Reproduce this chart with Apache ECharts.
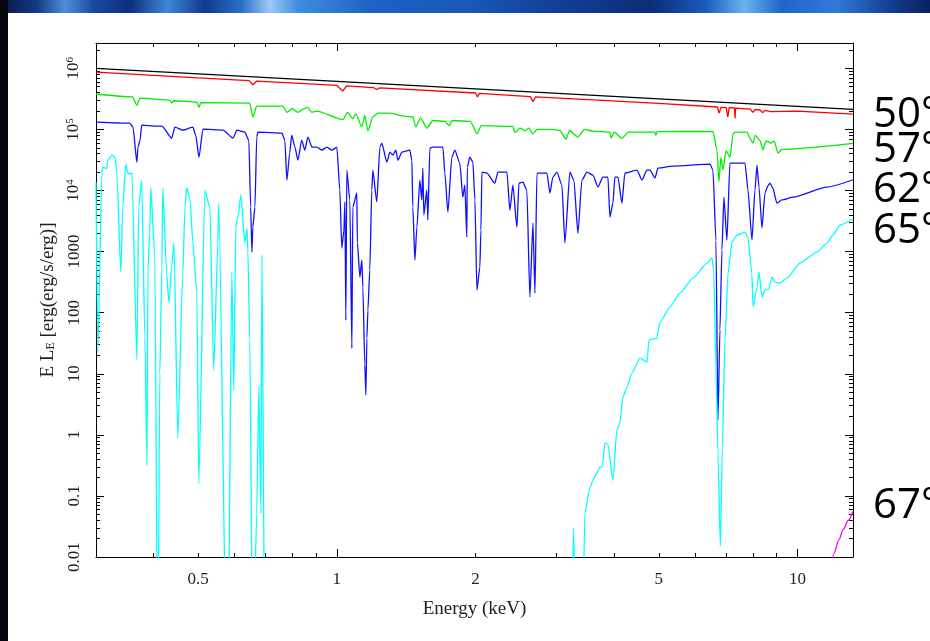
<!DOCTYPE html>
<html>
<head>
<meta charset="utf-8">
<script src="https://cdn.jsdelivr.net/npm/echarts@6/dist/echarts.min.js"></script>
<style>
  html, body { margin: 0; padding: 0; background: #fff; }
  #wrap { position: relative; width: 930px; height: 641px; overflow: hidden; background: #fff; }
  #main { position: absolute; left: 0; top: 0; width: 930px; height: 641px; }
  #topband {
    position: absolute; left: 0; top: 0; width: 930px; height: 13px; z-index: 2;
    background: linear-gradient(90deg, #081845 0%, #143a86 4%, #4f8fd8 7%, #1a4aa0 10%, #0e2f7c 14%,
      #3f86d8 18%, #0f3a8c 22%, #2a6fc8 26%, #9ccaf2 29%, #3f8ee0 32%, #1d62c4 40%, #1a58b8 50%,
      #123f96 60%, #0c2c78 70%, #1c5cbc 76%, #6ab4f0 80%, #1f66c8 84%, #2f7ad8 90%, #123c8e 96%, #0a2060 100%);
  }
  #leftband { position: absolute; left: 0; top: 0; width: 8px; height: 641px; z-index: 2; background: #04060d; }
</style>
</head>
<body>
<div id="wrap">
  <div id="main"></div>
  <div id="topband"></div>
  <div id="leftband"></div>
</div>
<script>
// energy (keV) vs E L_E
const black = [[0.3, 1.0e6], [0.5, 8.1e5], [1, 6.1e5], [2, 4.6e5], [5, 3.17e5], [10, 2.39e5], [13.2, 2.13e5]];

const red = [[0.3, 8.7e5], [0.5, 7.0e5], [0.645, 6.3e5], [0.657, 5.4e5], [0.67, 6.2e5], [1.0, 5.25e5],
  [1.03, 4.25e5], [1.05, 5.15e5], [1.2, 4.85e5], [1.22, 4.5e5], [1.24, 4.8e5], [2.0, 3.95e5], [2.02, 3.4e5],
  [2.04, 3.9e5], [2.63, 3.45e5], [2.665, 2.85e5], [2.7, 3.4e5], [5.0, 2.68e5], [6.7, 2.33e5], [6.76, 1.85e5],
  [6.82, 2.3e5], [7.0, 2.28e5], [7.06, 1.6e5], [7.11, 2.27e5], [7.3, 2.25e5], [7.32, 1.52e5], [7.34, 2.24e5],
  [7.9, 2.15e5], [8.0, 1.9e5], [8.1, 2.12e5], [8.3, 2.08e5], [8.4, 1.88e5], [8.5, 2.05e5], [8.75, 1.95e5],
  [8.8, 2.03e5], [10, 2.0e5], [13.2, 1.78e5]];

const green = [[0.3, 3.8e5], [0.36, 3.4e5], [0.368, 2.5e5], [0.374, 3.25e5], [0.434, 3.0e5], [0.438, 2.7e5],
  [0.442, 2.95e5], [0.497, 2.8e5], [0.502, 2.3e5], [0.507, 2.75e5], [0.647, 2.7e5], [0.657, 1.6e5], [0.67, 2.4e5],
  [0.763, 2.4e5], [0.779, 1.9e5], [0.80, 2.2e5], [0.823, 1.9e5], [0.845, 2.15e5], [0.865, 2.3e5], [0.882, 1.9e5],
  [0.905, 2.0e5], [1.03, 1.45e5], [1.055, 1.9e5], [1.083, 1.5e5], [1.10, 1.8e5], [1.133, 1.1e5], [1.15, 1.7e5],
  [1.168, 9.5e4], [1.197, 1.6e5], [1.228, 1.85e5], [1.304, 1.85e5], [1.40, 1.65e5], [1.462, 1.6e5], [1.484, 1.1e5],
  [1.52, 1.55e5], [1.568, 1.05e5], [1.616, 1.4e5], [1.72, 1.35e5], [1.751, 1.15e5], [1.78, 1.4e5], [1.95, 1.35e5],
  [2.014, 8.5e4], [2.06, 1.15e5], [2.41, 1.12e5], [2.435, 8.9e4], [2.5, 1.05e5], [2.561, 9.5e4], [2.61, 1.05e5],
  [2.665, 8.5e4], [2.72, 1.0e5], [2.944, 1.0e5], [3.05, 9.6e4], [3.143, 6.9e4], [3.2, 9.6e4], [3.337, 7.5e4],
  [3.45, 1.0e5], [3.6, 9.4e4], [3.916, 9.0e4], [3.936, 7.2e4], [4.0, 9.0e4], [4.157, 7.2e4], [4.3, 9.0e4],
  [4.904, 9.0e4], [4.928, 8.0e4], [4.96, 9.2e4], [6.554, 9.3e4], [6.686, 4.6e4], [6.753, 1.4e4], [6.82, 3.5e4],
  [6.89, 2.2e4], [7.0, 4.5e4], [7.136, 3.5e4], [7.25, 8.5e4], [7.317, 9.0e4], [7.77, 9.0e4], [7.9, 7.0e4],
  [8.007, 6.0e4], [8.1, 8.0e4], [8.3, 6.5e4], [8.417, 4.6e4], [8.55, 6.5e4], [8.75, 6.0e4], [8.9, 6.5e4],
  [9.07, 4.1e4], [9.25, 4.7e4], [13.2, 5.9e4]];

const blue = [[0.301, 1.32e5], [0.355, 1.27e5], [0.361, 1.09e5], [0.368, 2.9e4], [0.370, 5.1e4], [0.374, 6.7e4],
  [0.377, 1.18e5], [0.407, 1.13e5], [0.417, 1.13e5], [0.438, 7.2e4], [0.445, 1.09e5], [0.463, 9.75e4],
  [0.487, 1.09e5], [0.494, 8.0e4], [0.502, 3.5e4], [0.512, 1.01e5], [0.566, 9.75e4], [0.595, 7.2e4],
  [0.607, 9.75e4], [0.631, 9.0e4], [0.644, 6.7e4], [0.650, 5.35e3], [0.654, 982], [0.657, 2.5e3], [0.664, 5.35e3],
  [0.670, 7.5e4], [0.674, 9.0e4], [0.760, 8.7e4], [0.771, 6.7e4], [0.779, 1.48e4], [0.790, 4.1e4],
  [0.798, 8.07e4], [0.811, 5.13e4], [0.823, 3.14e4], [0.839, 6.7e4], [0.852, 4.58e4], [0.865, 7.5e4],
  [0.883, 5.13e4], [0.905, 5.13e4], [0.928, 4.58e4], [0.951, 5.13e4], [0.975, 4.58e4], [1.0, 5.13e4],
  [1.015, 1.02e4], [1.025, 1.14e3], [1.036, 2.25e3], [1.041, 6.5e3], [1.046, 75], [1.051, 2.16e4], [1.067, 7.0e3],
  [1.078, 26], [1.083, 5.35e3], [1.105, 9.1e3], [1.108, 1.4e3], [1.122, 383], [1.133, 726], [1.139, 262],
  [1.150, 14], [1.156, 4.5], [1.162, 38], [1.168, 110], [1.179, 500], [1.191, 1.02e4], [1.197, 2.16e4],
  [1.221, 6.5e3], [1.240, 5.13e4], [1.252, 5.97e4], [1.284, 2.92e4], [1.304, 4.25e4], [1.323, 3.8e4],
  [1.343, 4.58e4], [1.357, 3.14e4], [1.384, 4.25e4], [1.440, 4.58e4], [1.455, 3.14e4], [1.462, 5.35e3],
  [1.477, 726], [1.492, 2.5e3], [1.514, 1.48e4], [1.529, 7.0e3], [1.537, 2.32e4], [1.545, 3.96e3],
  [1.568, 1.02e4], [1.576, 3.28e3], [1.592, 4.94e4], [1.616, 5.13e4], [1.699, 5.13e4], [1.716, 1.93e4],
  [1.742, 4.43e3], [1.777, 3.52e4], [1.804, 4.58e4], [1.849, 2.81e4], [1.877, 7.8e3], [1.896, 1.22e4],
  [1.915, 1.73e3], [1.92, 2.42e4], [1.944, 3.52e4], [1.974, 2.92e4], [1.994, 7.0e3], [2.014, 234], [2.044, 557],
  [2.055, 2.25e3], [2.065, 2.0e4], [2.117, 1.93e4], [2.203, 1.32e4], [2.237, 2.0e4], [2.340, 2.0e4],
  [2.375, 4.77e3], [2.411, 1.22e4], [2.460, 2.5e3], [2.485, 1.32e4], [2.535, 1.37e4], [2.585, 1.02e4],
  [2.625, 180], [2.665, 2.93e3], [2.692, 209], [2.719, 1.93e4], [2.858, 1.93e4], [2.901, 9.1e3],
  [2.944, 1.66e4], [3.004, 2.0e4], [3.08, 1.22e4], [3.127, 1.38e3], [3.206, 2.0e4], [3.27, 1.48e4],
  [3.337, 2.0e3], [3.404, 1.48e4], [3.491, 2.0e4], [3.597, 1.79e4], [3.688, 1.14e4], [3.781, 1.66e4],
  [3.877, 1.66e4], [3.916, 3.67e3], [3.975, 6.2e3], [4.015, 1.66e4], [4.076, 1.66e4], [4.158, 6.2e3],
  [4.22, 1.93e4], [4.482, 2.16e4], [4.596, 1.48e4], [4.713, 2.16e4], [4.784, 2.16e4], [4.905, 1.6e4],
  [4.978, 2.32e4], [5.366, 2.5e4], [6.457, 2.7e4], [6.554, 2.16e4], [6.653, 1.54e3], [6.72, 1.75], [6.787, 52],
  [6.855, 1.06e3], [6.923, 7.8e3], [7.028, 1.54e3], [7.135, 2.81e4], [7.691, 2.81e4], [7.808, 1.02e4],
  [7.966, 1.54e3], [8.086, 1.02e4], [8.168, 2.6e4], [8.25, 1.14e4], [8.375, 2.43e3], [8.50, 9.1e3],
  [8.63, 1.2e4], [8.716, 1.32e4], [8.84, 1.1e4], [9.026, 6.2e3], [9.254, 7.0e3], [9.777, 7.8e3],
  [11.59, 1.14e4], [13.2, 1.5e4]];

const cyan = [[0.300, 1.37e4], [0.3027, 22], [0.309, 1.9e4], [0.310, 2.4e4], [0.3165, 2.3e4], [0.318, 3.1e4],
  [0.325, 3.8e4], [0.330, 3.5e4], [0.333, 1.9e4], [0.3396, 460], [0.343, 5.3e3], [0.348, 2.7e4], [0.352, 1.9e4],
  [0.359, 1.9e4], [0.368, 17], [0.3715, 5.3e3], [0.377, 1.5e4], [0.383, 40], [0.387, 0.32], [0.389, 500],
  [0.3925, 2.0e3], [0.3945, 1.1e4], [0.4025, 810], [0.4086, 1e-4], [0.4127, 10], [0.417, 560], [0.419, 1.1e4],
  [0.427, 445], [0.432, 144], [0.438, 560], [0.443, 1.4e3], [0.4515, 0.89], [0.463, 445], [0.468, 5.3e3],
  [0.472, 1.1e4], [0.4795, 7.8e3], [0.487, 1.4e3], [0.4966, 210], [0.5016, 0.16], [0.517, 1.0e4], [0.530, 5.3e3],
  [0.5406, 11.5], [0.5515, 1.4e3], [0.554, 6.2e3], [0.577, 1e-4], [0.58, 1e-4], [0.5916, 460], [0.5975, 5.4],
  [0.6035, 2.5e3], [0.6095, 3.7e3], [0.619, 8.4e3], [0.631, 1.4e3], [0.638, 2.4e3], [0.641, 1.0e3], [0.647, 36],
  [0.657, 1e-4], [0.670, 0.052], [0.677, 6.1], [0.684, 0.052], [0.6875, 880], [0.698, 1e-4], [3.2, 1e-4],
  [3.27, 0.03], [3.30, 1e-4], [3.40, 1e-4], [3.456, 0.052], [3.543, 0.135], [3.597, 0.18], [3.67, 0.24],
  [3.725, 0.30], [3.77, 0.30], [3.819, 0.74], [3.877, 0.70], [3.975, 0.18], [4.055, 1.2], [4.117, 1.56],
  [4.18, 4.2], [4.264, 6.0], [4.371, 10.3], [4.55, 18], [4.713, 15.5], [4.76, 36], [4.953, 38], [5.028, 70],
  [5.287, 124], [5.557, 209], [5.932, 368], [6.362, 648], [6.522, 783], [6.58, 500], [6.653, 12], [6.72, 0.5],
  [6.80, 0.015], [6.87, 0.6], [6.96, 36], [7.07, 445], [7.21, 1.43e3], [7.39, 1.86e3], [7.69, 2.08e3],
  [7.81, 1.7e3], [7.96, 445], [8.01, 124], [8.17, 262], [8.25, 462], [8.38, 180], [8.50, 234], [8.67, 245],
  [8.80, 383], [8.94, 316], [9.16, 305], [9.49, 368], [10.13, 648], [11.02, 982], [11.59, 1.38e3],
  [11.94, 1.86e3], [12.37, 2.72e3], [13.2, 3.45e3]];

const magenta = [[11.85, 0.007], [12.0, 0.0115], [12.3, 0.019], [12.56, 0.028], [12.9, 0.04], [13.2, 0.056]];

const energyMajor = [1, 10];
const energyMinor = [0.4, 0.5, 0.6, 0.7, 0.8, 0.9, 2, 3, 4, 5, 6, 7, 8, 9];
const energyLabels = [0.5, 1, 2, 5, 10];
const lumLabels = [0.01, 0.1, 1, 10, 100, 1000, 1e4, 1e5, 1e6];
const tempLabels = ['50°', '57°', '62°', '65°', '67°'];

const xMin = 0.3, xMax = 13.2, yMin = 0.01, yMax = 2.6e6;

let lumMinor = [];
for (let d = -2; d <= 6; d++) {
  for (let k = 2; k <= 9; k++) {
    const v = k * Math.pow(10, d);
    if (v < yMax) lumMinor.push(+v.toPrecision(3));
  }
}

const serif = '"Liberation Serif", "Times New Roman", serif';
const tickStyle = { color: '#000', width: 1 };

function xAxisOf(pos, ticks, len, withLabels) {
  return {
    type: 'log', min: xMin, max: xMax, position: pos,
    axisLine: { show: withLabels, lineStyle: tickStyle },
    axisTick: { show: true, inside: true, length: len, customValues: ticks, lineStyle: tickStyle },
    axisLabel: withLabels && pos === 'bottom' ? {
      show: true, customValues: energyLabels, margin: 14, color: '#222',
      fontFamily: serif, fontSize: 17, formatter: v => String(+v.toPrecision(3))
    } : { show: false },
    splitLine: { show: false },
    minorTick: { show: false }
  };
}

function yAxisOf(pos, ticks, len, withLabels) {
  return {
    type: 'log', min: yMin, max: yMax, position: pos,
    axisLine: { show: withLabels, lineStyle: tickStyle },
    axisTick: { show: true, inside: true, length: len, customValues: ticks, lineStyle: tickStyle },
    axisLabel: withLabels && pos === 'left' ? {
      show: true, customValues: lumLabels, rotate: 90, margin: 13, color: '#222',
      fontFamily: serif, fontSize: 17,
      formatter: function (v) {
        const e = Math.round(Math.log10(v));
        if (e >= 4) return '{b|10}{s|' + e + '}';
        return '{b|' + String(+v.toPrecision(3)) + '}';
      },
      rich: {
        b: { fontFamily: serif, fontSize: 17, color: '#222' },
        s: { fontFamily: serif, fontSize: 11, color: '#222', verticalAlign: 'top', padding: [0, 0, 7, 0] }
      }
    } : { show: false },
    splitLine: { show: false },
    minorTick: { show: false }
  };
}

const xAxes = [
  xAxisOf('bottom', energyMinor, 4, true),
  xAxisOf('bottom', energyMajor, 8, false),
  xAxisOf('top', energyMinor, 4, true),
  xAxisOf('top', energyMajor, 8, false)
];
xAxes[0].name = 'Energy (keV)';
xAxes[0].nameLocation = 'middle';
xAxes[0].nameGap = 43;
xAxes[0].nameTextStyle = { fontFamily: serif, fontSize: 19, color: '#222' };

const yAxes = [
  yAxisOf('left', lumLabels, 8, true),
  yAxisOf('left', lumMinor, 4, false),
  yAxisOf('right', lumLabels, 8, true),
  yAxisOf('right', lumMinor, 4, false)
];
yAxes[0].name = '{n|E L}{u|E}{n| [erg(erg/s/erg)]}';
yAxes[0].nameLocation = 'middle';
yAxes[0].nameGap = 35;
yAxes[0].nameTextStyle = {
  fontFamily: serif, fontSize: 19, color: '#222',
  rich: {
    n: { fontFamily: serif, fontSize: 19, color: '#222' },
    u: { fontFamily: serif, fontSize: 12, color: '#222', verticalAlign: 'bottom', padding: [7, 0, 0, 0] }
  }
};

function line(data, color, smooth) {
  return {
    type: 'line', data: data, showSymbol: false, symbol: 'none', clip: true,
    xAxisIndex: 0, yAxisIndex: 0, silent: true, smooth: smooth, smoothMonotone: 'x',
    lineStyle: { color: color, width: 1.3 }, itemStyle: { color: color }
  };
}

const tempY = [116, 151, 191, 232, 507];

const chart = echarts.init(document.getElementById('main'), null, { renderer: 'canvas' });
chart.setOption({
  animation: false,
  backgroundColor: 'transparent',
  grid: { left: 96, right: 77, top: 43, bottom: 84, containLabel: false },
  xAxis: xAxes,
  yAxis: yAxes,
  series: [
    line(black, '#000000', false),
    line(red, '#ff0000', false),
    line(green, '#00ee00', 0.2),
    line(blue, '#1010ff', 0.2),
    line(cyan, '#00ffff', 0.2),
    line(magenta, '#ff00ff', 0.3)
  ],
  graphic: tempLabels.map((t, i) => ({
    type: 'text', left: 873, top: tempY[i] - 22, silent: true,
    style: { text: t, fontFamily: '"Open Sans", sans-serif', fontSize: 42, fill: '#000' }
  }))
});
</script>
</body>
</html>
